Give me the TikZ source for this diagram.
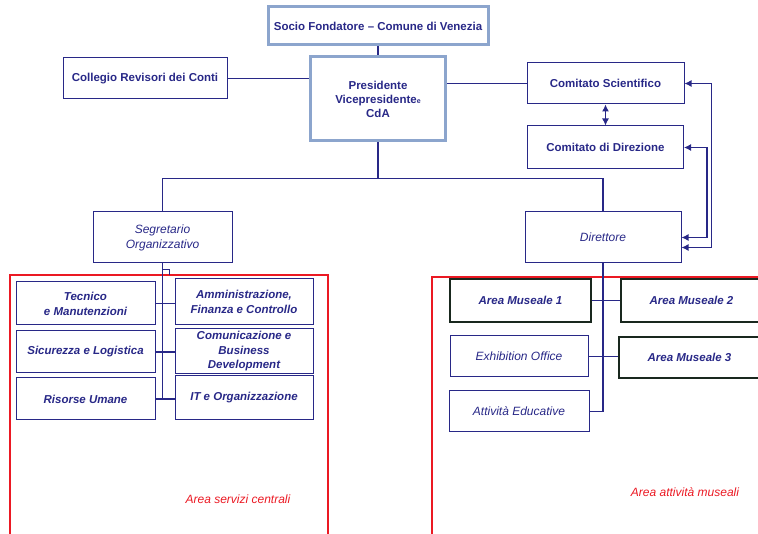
\documentclass[tikz,border=0pt]{standalone}
\usepackage{fontspec}
\setmainfont{Liberation Sans}
\usetikzlibrary{positioning,arrows.meta}
\definecolor{navy}{RGB}{40,40,135}
\definecolor{lightblue}{RGB}{140,165,205}
\definecolor{darkframe}{RGB}{25,40,30}
\definecolor{areared}{RGB}{235,25,35}
\tikzset{
  box/.style={draw=navy, line width=1pt, text=navy, align=center, inner sep=0pt,
    font=\fontsize{11.5}{14}\selectfont\bfseries},
  topbox/.style={box, draw=lightblue, line width=3pt},
  unitbox/.style={box, minimum width=139pt, font=\fontsize{11.5}{15}\selectfont\bfseries\itshape},
  plainunit/.style={box, font=\fontsize{12}{15}\selectfont\itshape},
  museo/.style={unitbox, draw=darkframe, line width=2pt, minimum width=141pt, minimum height=43pt},
  area/.style={text=areared, font=\fontsize{12}{14}\selectfont\itshape},
  link/.style={draw=navy, line width=1.2pt},
  tip/.style={link, {Latex[length=7pt,width=7pt]}-{Latex[length=7pt,width=7pt]}}
}
\begin{document}
\begin{tikzpicture}[x=1pt, y=-1pt]
  \useasboundingbox (0,0) rectangle (758,534);
  % vertici
  \node[topbox, minimum width=220pt, minimum height=38pt] (socio) at (378,26) {Socio Fondatore -- Comune di Venezia};
  \node[topbox, minimum width=135pt, minimum height=84pt] (pres) at (378,99)
    {Presidente\\Vicepresidente{\fontsize{7}{8}\selectfont e}\\CdA};
  \node[box, minimum width=164pt, minimum height=41pt] (collegio) at (145,78.5) {Collegio Revisori dei Conti};
  \node[box, minimum width=157pt, minimum height=41pt] (scient) at (605.5,83.5) {Comitato Scientifico};
  \node[box, minimum width=156pt, minimum height=43pt, below=21pt of scient] (direz) {Comitato di Direzione};
  \node[plainunit, minimum width=139pt, minimum height=51pt] (segr) at (162.5,237.5) {Segretario\\Organizzativo};
  \node[plainunit, minimum width=156pt, minimum height=51pt] (dirett) at (603,237.5) {Direttore};
  \draw[link] (socio.south) -- (pres.north);
  \draw[link] (collegio.east) -- (collegio.east -| pres.west);
  \draw[link] (scient.west) -- (scient.west -| pres.east);
  \path (pres.south) ++(0,36) coordinate (fork);
  \draw[link] (pres.south) -- (fork);
  \draw[link] (segr.north) |- (fork) -| (dirett.north);
  \draw[tip] (scient) -- (direz);
  \draw[tip] (scient.east) -- ++(27,0) |- ([yshift=-10pt]dirett.east);
  \draw[tip] (direz.east) -- ++(23,0) |- (dirett.east);
  % area servizi centrali
  \draw[areared, line width=1.6pt] (10,275) rectangle (328,540);
  \node[unitbox, minimum height=43pt] (tecn) at (85.5,303.5) {Tecnico\\e Manutenzioni};
  \node[unitbox, minimum height=42pt, below=5pt of tecn] (sicur) {Sicurezza e Logistica};
  \node[unitbox, minimum height=42pt, below=4pt of sicur] (risorse) {Risorse Umane};
  \node[unitbox, minimum width=138pt, minimum height=46pt] (ammin) at (244,302) {Amministrazione,\\Finanza e Controllo};
  \node[unitbox, minimum width=138pt, minimum height=45pt, below=3pt of ammin, font=\fontsize{11.5}{14.5}\selectfont\bfseries\itshape] (comun) {Comunicazione e\\Business\\Development};
  \node[unitbox, minimum width=138pt, minimum height=44pt, below=1pt of comun] (it) {IT e Organizzazione};
  \draw[link] (segr.south) |- (risorse.east);
  \draw[link] ([yshift=-6pt]segr.south) -- ++(7,0) -- ++(0,6);
  \draw[link] (tecn.east) -- (tecn.east -| ammin.west);
  \draw[link] (sicur.east) -- (sicur.east -| comun.west);
  \draw[link] (risorse.east) -- (risorse.east -| it.west);
  \node[area] (servizi) at (238,499) {Area servizi centrali};
  % area attivita museali
  \draw[areared, line width=1.6pt] (432,277) rectangle (770,540);
  \node[museo] (am1) at (520.5,300.5) {Area Museale 1};
  \node[museo, right=28pt of am1] (am2) {Area Museale 2};
  \node[plainunit, minimum width=138pt, minimum height=41pt] (exh) at (519,356.5) {Exhibition Office};
  \node[museo, minimum height=41pt] (am3) at (689.5,357.5) {Area Museale 3};
  \node[plainunit, minimum width=140pt, minimum height=41pt] (att) at (519,411.5) {Attività Educative};
  \draw[link] (dirett.south) |- (att.east);
  \draw[link] (am1) -- (am2);
  \draw[link] (exh.east) -- (exh.east -| am3.west);
  \node[area] (museali) at (685,492) {Area attività museali};
\end{tikzpicture}
\end{document}
